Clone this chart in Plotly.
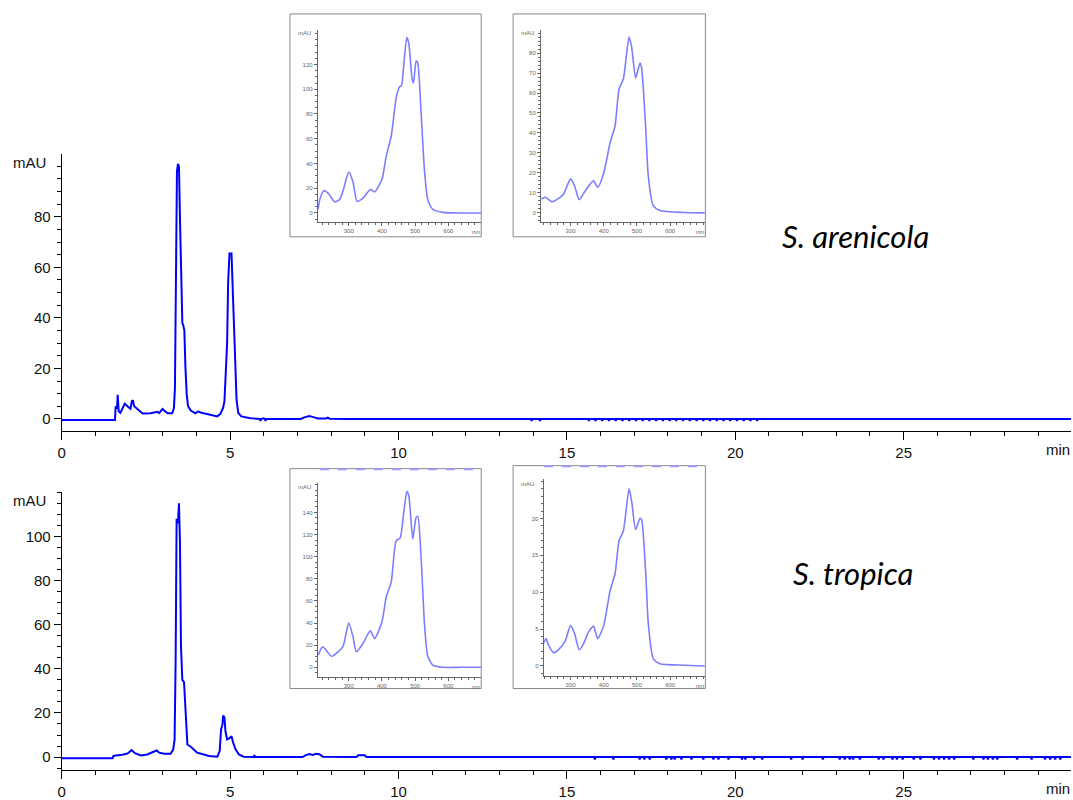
import plotly.graph_objects as go

W, H = 1073, 800

# ---------------- data ----------------
# Chromatogram S. arenicola (time [min], absorbance [mAU])
top_t = [0, 1.58, 1.60, 1.64, 1.66, 1.69, 1.74, 1.80, 1.87, 1.95, 2.00, 2.04, 2.08, 2.11, 2.15, 2.25,
         2.40, 2.64, 2.80, 2.84, 2.89, 2.99, 3.05, 3.14, 3.28, 3.33, 3.36, 3.39, 3.42, 3.45, 3.48,
         3.51, 3.55, 3.58, 3.61, 3.64, 3.67, 3.71, 3.75, 3.83, 3.97, 4.05, 4.12, 4.22, 4.42, 4.62,
         4.71, 4.79, 4.83, 4.86, 4.91, 4.94, 4.98, 5.04, 5.07, 5.11, 5.16, 5.19, 5.24, 5.33, 5.6,
         6.0, 6.5, 7.1, 7.2, 7.35, 7.5, 7.6, 7.85, 7.9, 7.95, 8.5, 13.5, 29.97]
top_v = [-0.4, -0.4, 5, 4, 9.5, 3, 2.4, 4.3, 6, 5, 4.5, 4, 7, 7.4, 5, 3.7,
         2.1, 2.2, 2.6, 2.8, 2.3, 3.9, 3.2, 2.2, 2.2, 4.3, 12, 52, 98, 101, 100,
         79, 46, 38, 37, 35, 21, 9.6, 5, 3.3, 2.2, 3, 2.5, 2.2, 1.4, 1.0,
         2, 4.3, 7, 14, 30, 54, 65.5, 65.5, 54, 31, 16, 7.6, 2.4, 1.0, 0.3,
         0.2, 0.0, 0.0, 0.6, 1.1, 0.6, 0.2, 0.2, 0.5, 0.1, 0.0, 0.0, 0.0]
top_dip_t = [5.9, 6.05, 13.95, 14.2, 15.65, 15.85, 16.05, 16.25, 16.45, 16.65, 16.85, 17.05, 17.25,
             17.45, 17.65, 17.85, 18.05, 18.25, 18.45, 18.65, 18.85, 19.05, 19.25, 19.45, 19.65,
             19.85, 20.05, 20.25, 20.45, 20.65]
top_dip_depth = -0.8

# Chromatogram S. tropica
bot_t = [0, 1.51, 1.53, 1.6, 1.75, 1.85, 1.95, 2.0, 2.07, 2.12, 2.17, 2.35, 2.54, 2.69, 2.82, 2.89,
         3.04, 3.23, 3.31, 3.35, 3.38, 3.41, 3.45, 3.48, 3.51, 3.54, 3.58, 3.63, 3.66, 3.69, 3.73,
         3.83, 3.93, 4.02, 4.22, 4.37, 4.62, 4.69, 4.73, 4.77, 4.79, 4.83, 4.86, 4.91, 4.99, 5.04,
         5.09, 5.16, 5.26, 5.4, 5.7, 5.72, 5.74, 7.15, 7.25, 7.35, 7.45, 7.55, 7.65, 7.75, 8.75,
         8.8, 9.0, 9.05, 15.0, 29.97]
bot_v = [-0.5, -0.5, 0.5, 0.75, 0.9, 1.2, 1.6, 2.2, 3.2, 2.5, 1.8, 0.75, 1.2, 2.2, 3.0, 2.0,
         1.5, 1.5, 3.5, 8, 42.5, 108, 106, 115, 97, 50, 35, 34, 26, 12.5, 5.7,
         4.7, 3.2, 2.0, 1.2, 0.5, 0.2, 2.7, 12.5, 14.7, 18.8, 18, 11.7, 8, 8.7, 9.5,
         6.5, 3.5, 1.2, 0.2, 0.1, 0.9, 0.1, 0.0, 0.9, 1.4, 1.0, 1.5, 1.3, 0.2, 0.0,
         0.8, 0.8, 0.0, 0.0, 0.0]
bot_dip_t = [15.83, 16.38, 17.16, 17.3, 17.46, 17.95, 18.1, 18.2, 18.4, 18.7, 19.05, 19.35, 19.5,
             19.8, 20.2, 20.3, 20.56, 20.8, 21.66, 22.0, 22.6, 23.1, 23.25, 23.4, 23.5, 23.7,
             24.26, 24.4, 24.67, 24.8, 24.97, 25.3, 25.5, 25.9, 26.05, 26.2, 26.35, 26.5, 27.07,
             27.37, 27.5, 27.65, 27.78, 28.37, 28.8, 29.2, 29.35, 29.5, 29.65]
bot_dip_depth = -1.0

# UV-Vis spectra (wavelength [nm], absorbance [mAU])
s1_nm = [208, 213, 225, 238, 258, 273, 283, 300, 313, 325, 343, 365, 378, 400, 413, 428, 443,
         453, 459, 465, 475, 481, 491, 495, 503, 508, 518, 528, 538, 553, 583, 640, 699]
s1_v = [3, 11, 18, 16, 9, 11, 18, 33, 25, 9.4, 12, 19, 17, 27, 46, 62, 93,
        102, 103, 117, 142, 137, 108, 105, 123, 121, 81, 35, 11, 3, 0.5, 0, 0]

s2_nm = [212, 224, 244, 264, 279, 300, 312, 326, 344, 369, 382, 400, 419, 434, 446, 459, 476,
         484, 496, 509, 514, 526, 534, 549, 569, 640, 704]
s2_v = [7, 7.8, 5.6, 7.3, 9.5, 17, 13.6, 6.6, 11, 16, 12.8, 20, 35, 43.5, 62, 67, 88,
        83, 67.5, 75, 72.5, 43.5, 18.6, 3.6, 1.2, 0.2, 0]

s3_nm = [208, 221, 228, 248, 268, 283, 300, 313, 323, 343, 365, 378, 400, 413, 428, 443, 455,
         465, 475, 481, 493, 503, 508, 518, 528, 538, 553, 583, 640, 699]
s3_v = [11, 18.6, 17, 10, 14, 19, 40, 27.6, 14, 21.6, 33, 26, 41, 63.5, 77, 114.5, 117,
        138, 159, 155, 116, 135.5, 136.5, 99, 40, 10, 2, 0, 0, 0]

s4_nm = [219, 226, 234, 249, 264, 284, 300, 312, 326, 339, 352, 362, 369, 375, 382, 400, 419,
         434, 446, 459, 476, 484, 496, 509, 514, 526, 534, 549, 569, 640, 704]
s4_v = [3.1, 3.7, 2.8, 1.8, 2.2, 3.4, 5.5, 4.4, 2.2, 3, 4.4, 5.1, 5.4, 4.6, 3.7, 5.5, 10.2,
        12.5, 17, 18.3, 24, 22.3, 18.5, 20, 19.8, 12.9, 5.8, 1, 0.3, 0.1, 0]

species = ["S. arenicola", "S. tropica"]


# ---------------- helpers ----------------
def with_dips(ts, vs, dips, depth):
    pts = list(zip(ts, vs))
    for d in dips:
        pts += [(d - 0.025, 0.0), (d, depth), (d + 0.025, 0.0)]
    pts.sort(key=lambda p: p[0])
    return [p[0] for p in pts], [p[1] for p in pts]


def xd(a, b):
    return [a / W, b / W]


def yd(top, bottom):
    return [1 - bottom / H, 1 - top / H]


fig = go.Figure()

tt, tv = with_dips(top_t, top_v, top_dip_t, top_dip_depth)
bt, bv = with_dips(bot_t, bot_v, bot_dip_t, bot_dip_depth)

BLUE = "#0000ff"
LBLUE = "#7d7dff"
fig.add_trace(go.Scatter(x=tt, y=tv, mode="lines", line=dict(color=BLUE, width=2),
                         xaxis="x", yaxis="y", showlegend=False, hoverinfo="skip"))
fig.add_trace(go.Scatter(x=bt, y=bv, mode="lines", line=dict(color=BLUE, width=2),
                         xaxis="x2", yaxis="y2", showlegend=False, hoverinfo="skip"))

for i, (nm, v) in enumerate([(s1_nm, s1_v), (s2_nm, s2_v), (s3_nm, s3_v), (s4_nm, s4_v)]):
    fig.add_trace(go.Scatter(x=nm, y=v, mode="lines",
                             line=dict(color=LBLUE, width=1.6, shape="spline", smoothing=0.6),
                             xaxis=f"x{i+3}", yaxis=f"y{i+3}", showlegend=False,
                             hoverinfo="skip", cliponaxis=True))

tickfont = dict(family="Liberation Sans, Arial, sans-serif", size=15, color="#111")
chrom_x = dict(range=[0, 29.97], showline=True, linecolor="black", linewidth=1.2,
               ticks="outside", ticklen=8, tickwidth=1.2, tickcolor="black",
               tickvals=[0, 5, 10, 15, 20, 25], ticktext=["0", "5", "10", "15", "20", "25"],
               minor=dict(dtick=1, tick0=0, ticks="outside", ticklen=4, tickcolor="black", tickwidth=1),
               showgrid=False, zeroline=False, tickfont=tickfont, fixedrange=True)
chrom_y = dict(showline=True, linecolor="black", linewidth=1.2, ticks="outside", ticklen=7,
               tickwidth=1.2, tickcolor="black",
               minor=dict(dtick=5, tick0=0, ticks="outside", ticklen=4, tickcolor="black", tickwidth=1),
               showgrid=False, zeroline=False, tickfont=tickfont, fixedrange=True)

layout = dict(
    width=W, height=H, autosize=False,
    margin=dict(l=0, r=0, t=0, b=0),
    paper_bgcolor="white", plot_bgcolor="rgba(0,0,0,0)",
    showlegend=False,
)
layout["xaxis"] = dict(chrom_x, domain=xd(58, 1071), anchor="y")
layout["yaxis"] = dict(chrom_y, domain=yd(155, 433), range=[-4.73, 104.8], anchor="x",
                       tickvals=[0, 20, 40, 60, 80])
layout["xaxis2"] = dict(chrom_x, domain=xd(58, 1071), anchor="y2")
layout["yaxis2"] = dict(chrom_y, domain=yd(494, 774), range=[-5.9, 120.3], anchor="x2",
                        tickvals=[0, 20, 40, 60, 80, 100])

ifont = dict(family="Liberation Sans, Arial, sans-serif", size=6, color="#666")
GRAY = "#666"


def inset_x(dom, rng, anchor):
    return dict(domain=dom, range=rng, anchor=anchor, showline=True, linecolor=GRAY, linewidth=1,
                ticks="outside", ticklen=3, tickcolor=GRAY, tickvals=[300, 400, 500, 600],
                minor=dict(dtick=20, tick0=200, ticks="outside", ticklen=2, tickcolor=GRAY),
                showgrid=False, zeroline=False, tickfont=ifont, fixedrange=True)


def inset_y(dom, rng, anchor, vals, mdt):
    return dict(domain=dom, range=rng, anchor=anchor, showline=True, linecolor=GRAY, linewidth=1,
                ticks="outside", ticklen=3, tickcolor=GRAY, tickvals=vals,
                minor=dict(dtick=mdt, tick0=0, ticks="outside", ticklen=2, tickcolor=GRAY),
                showgrid=False, zeroline=False, tickfont=ifont, fixedrange=True)


layout["xaxis3"] = inset_x(xd(315, 479), [207, 699], "y3")
layout["yaxis3"] = inset_y(yd(30, 223), [-7.2, 148], "x3", [0, 20, 40, 60, 80, 100, 120], 5)
layout["xaxis4"] = inset_x(xd(539, 704), [211, 706], "y4")
layout["yaxis4"] = inset_y(yd(30, 223), [-4.5, 91.6], "x4", [0, 10, 20, 30, 40, 50, 60, 70, 80], 2)
layout["xaxis5"] = inset_x(xd(315, 479), [207, 699], "y5")
layout["yaxis5"] = inset_y(yd(485, 680), [-8.4, 167], "x5", [0, 20, 40, 60, 80, 100, 120, 140], 5)
layout["xaxis6"] = inset_x(xd(541.7, 704), [219, 706], "y6")
layout["yaxis6"] = inset_y(yd(481.7, 679.3), [-1.35, 25.3], "x6", [0, 5, 10, 15, 20], 1)

shapes = []
for (x0, y0, x1, y1) in [(287, 14, 479, 238), (511, 14, 704, 238), (287, 471, 479, 692), (511, 468, 704, 692)]:
    shapes.append(dict(type="rect", xref="paper", yref="paper", x0=x0 / W, x1=x1 / W,
                       y0=1 - y1 / H, y1=1 - y0 / H, line=dict(color="#8a8a8a", width=1),
                       fillcolor="rgba(0,0,0,0)", layer="below"))
for (x0, x1, y) in [(317, 479, 471.5), (542, 703, 468.5)]:
    shapes.append(dict(type="line", xref="paper", yref="paper", x0=x0 / W, x1=x1 / W,
                       y0=1 - y / H, y1=1 - y / H, line=dict(color="#9a9aff", width=2, dash="dash")))
layout["shapes"] = shapes

ann = []
def A(text, x, y, xanchor="center", font=None):
    ann.append(dict(text=text, x=x / W, y=1 - y / H, xref="paper", yref="paper", showarrow=False,
                    xanchor=xanchor, yanchor="middle", font=font or tickfont))

A("mAU", 44, 163, "right")
A("mAU", 44, 503, "right")
A("min", 1072, 452, "right")
A("min", 1072, 792, "right")
for (x, y) in [(310, 33), (534, 33), (310, 489), (534, 486)]:
    A("mAU", x, y, "right", ifont)
for (x, y) in [(480, 233), (705, 233), (480, 690), (705, 689)]:
    A("nm", x, y, "right", ifont)
sfont = dict(family="Lato, Open Sans, sans-serif", size=31, color="black", style="italic")
A(species[0], 855, 237, "center", sfont)
A(species[1], 852, 576, "center", sfont)
layout["annotations"] = ann

fig.update_layout(**layout)
fig.write_html(
    "out.html",
    config={"displayModeBar": False},
    post_script="document.body.style.margin='0';document.body.style.padding='0';"
                "document.body.style.overflow='hidden';",
)
